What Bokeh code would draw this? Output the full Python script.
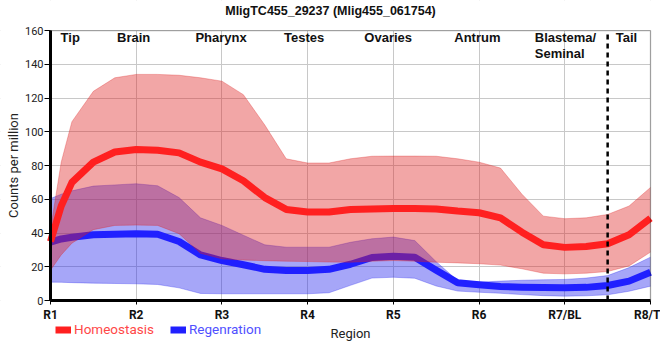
from bokeh.plotting import figure
from bokeh.models import (Legend, LegendItem, FixedTicker, Range1d, ColumnDataSource,
                          BoxAnnotation)
from bokeh.core.properties import value
from bokeh.embed import file_html
from bokeh.resources import INLINE

title_text = "MligTC455_29237 (Mlig455_061754)"

# Region ticks
region_pos = [1, 2, 3, 4, 5, 6, 7, 8]
region_ticks = ["R1", "R2", "R3", "R4", "R5", "R6", "R7/BL", "R8/T"]
y_ticks = [0, 20, 40, 60, 80, 100, 120, 140, 160]

# Positions along the body where the curves were read
sample_r = [1, 1.125, 1.25, 1.5, 1.75, 2, 2.25, 2.5, 2.75, 3, 3.25, 3.5, 3.75, 4,
            4.25, 4.5, 4.75, 5, 5.25, 5.5, 5.75, 6, 6.25, 6.5, 6.75, 7, 7.25, 7.5,
            7.75, 8]

homeo_mean = [35, 56, 70, 82, 88, 89.5, 89, 87.5, 82, 78, 71, 61, 54, 52.5,
              52.5, 54, 54.3, 54.5, 54.5, 54.3, 53, 52, 49, 40.5, 33, 31.5, 32, 33.6,
              39, 48.8]
homeo_upper = [42, 82, 106, 124, 132, 134, 134, 133.5, 132, 130, 122, 104, 84, 81.5,
               81.5, 84, 85.5, 85.6, 85.6, 85.5, 84, 82, 78.5, 63, 50, 48.5, 49, 51,
               56, 67]
homeo_lower = [18, 27, 34, 42, 44.5, 44.7, 44.5, 39.6, 28, 24.7, 24, 23.6, 23.3, 23.1,
               22.8, 22.7, 23.3, 23.7, 23.3, 22.7, 22.3, 21.8, 21, 18.8, 16.2, 15.8, 16.2, 17.2,
               20.5, 28.7]

regen_mean = [34.6, 36.5, 37.5, 39, 39.3, 39.6, 39.3, 35, 27, 23.7, 21.2, 18.5, 17.8, 17.8,
              18.5, 21.5, 25.5, 26.3, 25.7, 18, 10.5, 9.3, 8.3, 7.9, 7.7, 7.5, 7.8, 8.9,
              11.5, 16.8]
regen_upper = [60.4, 63, 65, 67.8, 68.5, 69.2, 68, 61, 49, 44.5, 38.7, 33, 31.6, 31.6,
               31.6, 34.5, 36.6, 37.6, 35.5, 23, 11.8, 10.9, 11.5, 12, 12.3, 12.5, 13.3, 14.8,
               19.5, 25.7]
regen_lower = [10.9, 10.8, 10.6, 10.3, 10.1, 9.9, 9.5, 7.5, 4.2, 4, 4, 4, 4, 4,
               4.6, 9, 13.3, 13.8, 13.2, 8.6, 5.6, 4.9, 4.3, 3.5, 2.9, 2.6, 2.8, 3.4,
               5.5, 8.5]

tissue_names = ["Tip", "Brain", "Pharynx", "Testes", "Ovaries", "Antrum", "Tail"]
tissue_x = [1.23, 1.97, 2.99, 3.96, 4.94, 5.98, 7.72]
blastema_label = ["Blastema/\nSeminal"]
blastema_x = [6.65]
tail_boundary = 7.5

X_MIN, X_MAX = 1, 8
Y_MIN, Y_MAX = 0, 160

src = ColumnDataSource(dict(r=sample_r, hm=homeo_mean, hu=homeo_upper, hl=homeo_lower,
                            rm=regen_mean, ru=regen_upper, rl=regen_lower))

# The frame fills the whole canvas; axes are pinned at R1 / 0 and the data area
# (R1..R8, 0..160) sits at pixels 50..650 x 30..300.
p = figure(width=660, height=352,
           x_range=Range1d(0.41667, 8.11667), y_range=Range1d(-30.8, 177.8),
           output_backend="svg", toolbar_location=None,
           min_border_left=0, min_border_right=0, min_border_top=0, min_border_bottom=0)

p.outline_line_color = None
p.background_fill_color = "white"

# grid
p.xgrid.ticker = FixedTicker(ticks=region_pos)
p.ygrid.ticker = FixedTicker(ticks=y_ticks)
p.grid.grid_line_color = "#c8c8c8"
p.grid.grid_line_width = 1

# white masks hiding the grid outside the data area
for kw in (dict(top=Y_MIN), dict(bottom=Y_MAX), dict(right=X_MIN), dict(left=X_MAX)):
    p.add_layout(BoxAnnotation(fill_color="white", fill_alpha=1, line_alpha=0,
                               level="underlay", **kw))

# colours
RED_BAND = "#de2020"
BLUE_BAND = "#2020ed"
RED_LINE = "#ff2020"
BLUE_LINE = "#2020ff"

# Regeneration band and line
p.varea(x="r", y1="rl", y2="ru", source=src, fill_color=BLUE_BAND, fill_alpha=0.4)
p.line(x="r", y="ru", source=src, line_color=BLUE_BAND, line_alpha=0.3, line_width=1)
p.line(x="r", y="rl", source=src, line_color=BLUE_BAND, line_alpha=0.3, line_width=1)
blue_line = p.line(x="r", y="rm", source=src, line_color=BLUE_LINE, line_width=7,
                   line_join="round", line_cap="butt")

# Homeostasis band and line
p.varea(x="r", y1="hl", y2="hu", source=src, fill_color=RED_BAND, fill_alpha=0.4)
p.line(x="r", y="hu", source=src, line_color=RED_BAND, line_alpha=0.3, line_width=1)
p.line(x="r", y="hl", source=src, line_color=RED_BAND, line_alpha=0.3, line_width=1)
red_line = p.line(x="r", y="hm", source=src, line_color=RED_LINE, line_width=7,
                  line_join="round", line_cap="butt")

# tail boundary (dashed)
p.segment(x0=[tail_boundary], y0=[Y_MIN], x1=[tail_boundary], y1=[Y_MAX],
          line_color="black", line_width=2.5, line_dash="5 4")

# plot border (top & right)
p.add_layout(BoxAnnotation(left=X_MIN, right=X_MAX, bottom=Y_MIN, top=Y_MAX,
                           fill_alpha=0, line_color="black", line_width=1.3))

# title
p.text(x=[4.2667], y=[171.6], text=[title_text],
       text_font=value("Liberation Sans"), text_font_style="bold", text_font_size="12.5px",
       text_align="center", text_baseline="middle", text_color="#111111")

# tissue names
p.text(x=tissue_x, y=[160.2] * len(tissue_x), text=tissue_names,
       text_font=value("Liberation Sans"), text_font_style="bold", text_font_size="13px",
       text_align="center", text_baseline="top", text_color="#111111")
p.text(x=blastema_x, y=[160.2], text=blastema_label,
       text_font=value("Liberation Sans"), text_font_style="bold", text_font_size="13px",
       text_align="left", text_baseline="top", text_color="#111111", text_line_height=1.05)

# axes
p.xaxis.ticker = FixedTicker(ticks=region_pos)
p.xaxis.major_label_overrides = {pos: lab for pos, lab in zip(region_pos, region_ticks)}
p.xaxis.fixed_location = Y_MIN
p.xaxis.bounds = (X_MIN, X_MAX)
p.yaxis.ticker = FixedTicker(ticks=y_ticks)
p.yaxis.fixed_location = X_MIN
p.yaxis.bounds = (Y_MIN, Y_MAX)
for ax in (p.xaxis[0], p.yaxis[0]):
    ax.axis_line_width = 3
    ax.axis_line_color = "black"
    ax.major_tick_line_color = "black"
    ax.major_tick_line_width = 1
    ax.minor_tick_line_color = None
    ax.major_tick_in = 0
    ax.axis_label_text_font = "Roboto"
    ax.axis_label_text_font_style = "normal"
    ax.axis_label_text_font_size = "13px"
    ax.axis_label_text_color = "#222222"
p.xaxis.major_tick_out = 4
p.yaxis.major_tick_out = 6
p.xaxis.major_label_text_font = "Roboto"
p.xaxis.major_label_text_font_style = "bold"
p.xaxis.major_label_text_font_size = "12px"
p.xaxis.major_label_text_color = "#111111"
p.xaxis.major_label_standoff = 3
p.yaxis.major_label_text_font = "Roboto"
p.yaxis.major_label_text_font_size = "11px"
p.yaxis.major_label_text_color = "#222222"
p.yaxis.major_label_standoff = 1
p.xaxis.axis_label = "Region"
p.yaxis.axis_label = "Counts per million"
p.xaxis.axis_label_standoff = 1
p.yaxis.axis_label_standoff = 1

# legends (separate so each label keeps its own colour)
leg1 = Legend(items=[LegendItem(label="Homeostasis", renderers=[red_line])],
              location=(55, 15), label_text_color="#ff4848")
leg2 = Legend(items=[LegendItem(label="Regenration", renderers=[blue_line])],
              location=(170, 15), label_text_color="#5050ff")
for lg in (leg1, leg2):
    lg.padding = 0
    lg.margin = 0
    lg.spacing = 0
    lg.glyph_width = 16
    lg.glyph_height = 9
    lg.label_standoff = 3
    lg.label_text_font = "Roboto"
    lg.label_text_font_size = "13.5px"
    lg.border_line_color = None
    lg.background_fill_alpha = 0
    lg.label_height = 14
    p.add_layout(lg, "center")

open("out.html", "w").write(file_html(p, INLINE))
